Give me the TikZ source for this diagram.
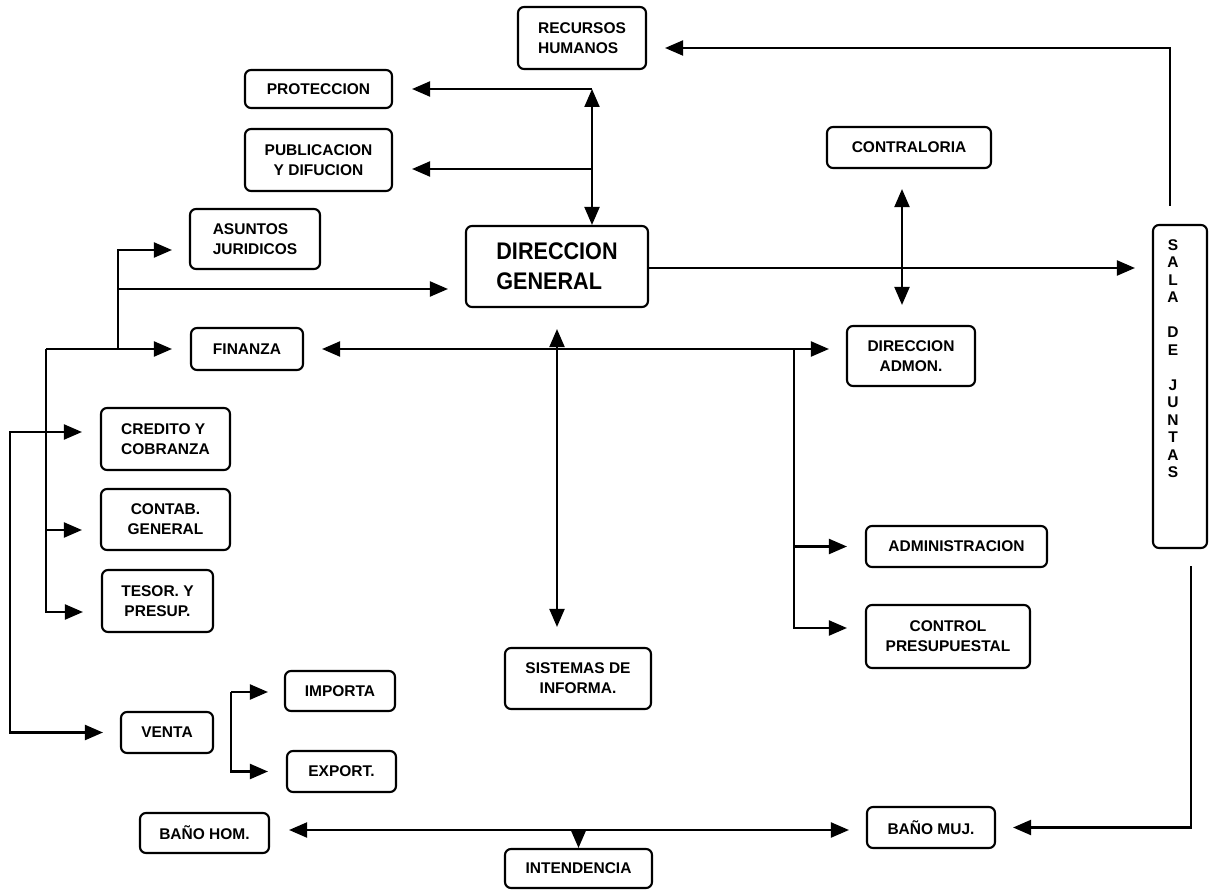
\documentclass[tikz,border=0pt]{standalone}
\usepackage{fontspec}
\setmainfont{Liberation Sans}
\newfontfamily\dgfont[FakeStretch=0.9]{Liberation Sans}
\usetikzlibrary{arrows.meta,calc}
\begin{document}
\begin{tikzpicture}[x=1pt,y=-1pt,
  box/.style={draw, line width=2.1pt, rounded corners=6pt, inner sep=0pt, align=center,
    font=\fontsize{15.5}{20}\selectfont\bfseries},
  conn/.style={line width=2.1pt},
  arr/.style={conn, -{Triangle[length=18pt,width=15pt]}},
  dbl/.style={conn, {Triangle[length=18pt,width=15pt]}-{Triangle[length=18pt,width=15pt]}},
  plain/.style={inner sep=0pt, align=center, font=\fontsize{15.5}{17.5}\selectfont\bfseries}
]
\useasboundingbox (0,0) rectangle (1209,890);

% nodes
\node[box, align=left, minimum width=128pt, minimum height=62pt] (rh) at (582,38) {RECURSOS\\HUMANOS};
\node[box, minimum width=147pt, minimum height=38pt] (prot) at (318.5,89) {PROTECCION};
\node[box, minimum width=147pt, minimum height=62pt] (pub) at (318.5,160) {PUBLICACION\\Y DIFUCION};
\node[box, align=left, minimum width=130pt, minimum height=60pt] (asj) at (255,239) {ASUNTOS\\JURIDICOS};
\node[box, align=left, minimum width=182pt, minimum height=81pt, font=\dgfont\fontsize{24}{30}\selectfont\bfseries] (dg) at (557,266.5) {DIRECCION\\GENERAL\hspace*{10pt}};
\node[box, minimum width=164pt, minimum height=41pt] (contra) at (909,147.5) {CONTRALORIA};
\node[box, minimum width=54pt, minimum height=323pt] (sala) at (1180,386.5) {};
\node[plain] (salatxt) at (1173,358.5) {S\\A\\L\\A\\~\\D\\E\\~\\J\\U\\N\\T\\A\\S};
\node[box, minimum width=112pt, minimum height=42pt] (fin) at (247,349) {FINANZA};
\node[box, minimum width=128pt, minimum height=60pt] (dadm) at (911,356) {DIRECCION\\ADMON.};
\node[box, align=left, minimum width=129pt, minimum height=62pt] (cred) at (165.5,439) {CREDITO Y\\COBRANZA};
\node[box, minimum width=129pt, minimum height=61pt] (contab) at (165.5,519.5) {CONTAB.\\GENERAL};
\node[box, minimum width=111pt, minimum height=62pt] (tesor) at (157.5,601) {TESOR. Y\\PRESUP.};
\node[box, minimum width=181pt, minimum height=41pt] (admin) at (956.5,546.5) {ADMINISTRACION};
\node[box, minimum width=164pt, minimum height=63pt] (cpres) at (948,636.5) {CONTROL\\PRESUPUESTAL};
\node[box, minimum width=146pt, minimum height=61pt] (sis) at (578,678.5) {SISTEMAS DE\\INFORMA.};
\node[box, minimum width=110pt, minimum height=40pt] (imp) at (340,691) {IMPORTA};
\node[box, minimum width=109pt, minimum height=41pt] (exp) at (341.5,771.5) {EXPORT.};
\node[box, minimum width=92pt, minimum height=41pt] (venta) at (167,732.5) {VENTA};
\node[box, minimum width=129pt, minimum height=40pt] (bh) at (204.5,833) {BAÑO HOM.};
\node[box, minimum width=128pt, minimum height=41pt] (bm) at (931,827.5) {BAÑO MUJ.};
\node[box, minimum width=147pt, minimum height=39pt] (int) at (578.5,868.5) {INTENDENCIA};

% coordinates
\coordinate (pv) at (592,89);
\coordinate (pubin) at ([yshift=-9pt]pub.east);
\coordinate (ajin) at ([yshift=-11pt]asj.west);
\coordinate (dgin) at ([yshift=-22.5pt]dg.west);
\coordinate (j1) at (118,349);
\coordinate (j0) at (46,349);
\coordinate (cbin) at ([yshift=-10.5pt]contab.west);
\coordinate (tsin) at ([yshift=-11pt]tesor.west);
\coordinate (crin) at ([yshift=7pt]cred.west);
\coordinate (l0) at (10,0);
\coordinate (j3) at (794,349);
\coordinate (cpin) at ([yshift=8.5pt]cpres.west);
\coordinate (cv) at (902,0);
\coordinate (dgout) at ([yshift=-1.5pt]dg.east);
\coordinate (j4) at (231,692);
\coordinate (bl) at (0,830);

% connectors
\draw[arr, shorten >=18pt] ([xshift=-10pt,yshift=18pt]sala.north) |- ([yshift=-10pt]rh.east);
\draw[arr, shorten >=19pt] (pv) -- (prot.east);
\draw[arr, shorten >=19pt] (pubin -| pv) -- (pubin);
\draw[dbl] (pv) -- (pv |- dg.north);
\draw[arr, shorten >=17pt] (j1) |- (ajin);
\draw[arr, shorten >=17pt] (j1 |- dgin) -- (dgin);
\draw[arr, shorten >=18pt] (j0) -- (fin.west);
\draw[arr, shorten >=18pt] (j0) |- (tsin);
\draw[arr, shorten >=18pt] (j0 |- cbin) -- (cbin);
\draw[dbl, shorten <=17pt, shorten >=18pt] (venta.west) -| (l0 |- crin) -- (crin);
\draw[dbl, shorten <=18pt, shorten >=17pt] (fin.east) -- (dadm.west |- fin.east);
\draw[dbl, shorten <=21pt, shorten >=20pt] (dg.south) -- (dg.south |- sis.north);
\draw[arr, shorten >=18pt] (j3) |- (cpin);
\draw[arr, shorten >=18pt] (j3 |- admin.west) -- (admin.west);
\draw[dbl, shorten <=20pt, shorten >=20pt] (cv |- contra.south) -- (cv |- dadm.north);
\draw[arr, shorten >=17pt] (dgout) -- (sala.west |- dgout);
\draw[arr, shorten >=16pt] (j4) -- (imp.west |- j4);
\draw[arr, shorten >=18pt] (j4) |- (exp.west);
\draw[dbl, shorten <=19pt, shorten >=17pt] (bh.east |- bl) -- (bm.west |- bl);
\draw[arr] (int.north |- bl) -- (int.north);
\draw[arr, shorten >=17pt] ([xshift=11pt,yshift=-17pt]sala.south) |- (bm.east);
\end{tikzpicture}
\end{document}
